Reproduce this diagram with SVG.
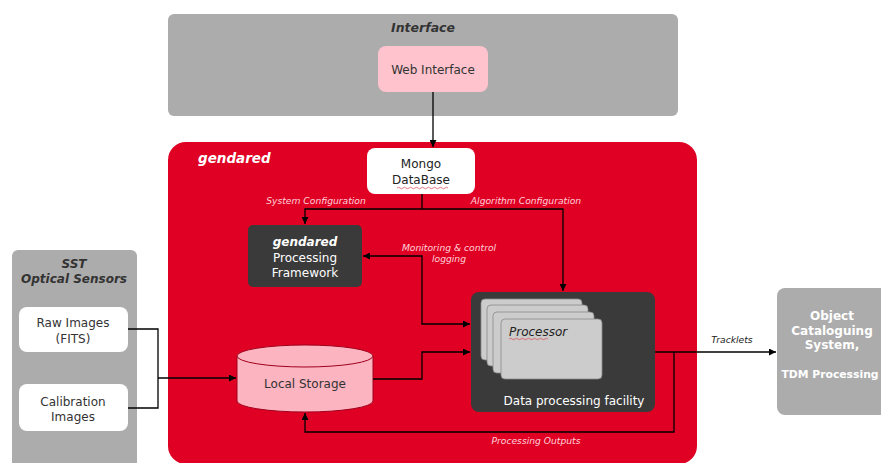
<svg xmlns="http://www.w3.org/2000/svg" width="881" height="463" viewBox="0 0 881 463">
<defs>
<style>
text{font-family:"DejaVu Sans","Verdana",sans-serif;}
.t12{font-size:12px;}
.c{text-anchor:middle;}
.bi{font-weight:bold;font-style:italic;}
.lbl{font-size:9.2px;font-style:italic;fill:#ffd3da;text-anchor:middle;}
.gray{fill:#acacac;}
.dark{fill:#3a3a3a;}
.card{fill:#cccccc;stroke:#8a8a8a;stroke-width:0.8;}
.ln{fill:none;stroke:#000;stroke-width:1.3;}
</style>
<marker id="ah" viewBox="0 0 10 10" refX="10" refY="5" markerWidth="7" markerHeight="7" markerUnits="userSpaceOnUse" orient="auto-start-reverse">
<path d="M0,0 L10,5 L0,10 z" fill="#000"/>
</marker>
</defs>
<rect width="881" height="463" fill="#fff"/>

<g id="interface">
<rect class="gray" x="168" y="14" width="510" height="102" rx="6"/>
<text class="bi c" x="423" y="32" font-size="12.5" fill="#333">Interface</text>
</g>
<g id="web-interface">
<rect x="378" y="46" width="110" height="46" rx="8" fill="#fec3cc"/>
<text class="t12 c" x="433" y="74" fill="#333">Web Interface</text>
</g>

<g id="gendared">
<rect x="168" y="142" width="529" height="322" rx="18" fill="#df0024"/>
<text class="bi" x="198" y="163" font-size="13.5" fill="#fff">gendared</text>
</g>

<g id="sst">
<rect class="gray" x="12" y="250" width="125" height="230" rx="6"/>
<text class="bi c" x="74" y="268" font-size="12" fill="#333">SST</text>
<text class="bi c" x="74" y="283" font-size="12" fill="#333">Optical Sensors</text>
</g>
<g id="raw-images">
<rect x="19" y="307" width="109" height="45" rx="8" fill="#fff"/>
<text class="t12 c" x="73" y="327" fill="#333">Raw Images</text>
<text class="t12 c" x="73" y="343" fill="#333">(FITS)</text>
</g>
<g id="calibration-images">
<rect x="19" y="384" width="109" height="47" rx="8" fill="#fff"/>
<text class="t12 c" x="73" y="406" fill="#333">Calibration</text>
<text class="t12 c" x="73" y="421" fill="#333">Images</text>
</g>

<g id="mongo">
<rect x="367" y="148" width="108" height="46" rx="8" fill="#fff"/>
<text class="t12 c" x="421" y="168" fill="#222">Mongo</text>
<text class="t12 c" x="421" y="184" fill="#222">DataBase</text>
<path d="M397,188 q1.5,-1.5 3,0 t3,0 t3,0 t3,0 t3,0 t3,0 t3,0 t3,0 t3,0 t3,0 t3,0 t3,0 t3,0 t3,0 t3,0 t3,0 t3,0" fill="none" stroke="#e04050" stroke-width="0.7"/>
</g>

<g id="processing-framework">
<rect class="dark" x="248" y="225" width="114" height="62" rx="5"/>
<text class="bi c" x="305" y="246" font-size="12" fill="#fff">gendared</text>
<text class="t12 c" x="305" y="262" fill="#fff">Processing</text>
<text class="t12 c" x="305" y="277" fill="#fff">Framework</text>
</g>

<g id="local-storage">
<path d="M237,356 L237,401 A68,11 0 0 0 373,401 L373,356" fill="#fbb4c0" stroke="#a0001c" stroke-width="1"/>
<ellipse cx="305" cy="356" rx="68" ry="11" fill="#fbb4c0" stroke="#a0001c" stroke-width="1"/>
<text class="t12 c" x="305" y="388" fill="#333">Local Storage</text>
</g>

<g id="data-processing-facility">
<rect class="dark" x="471" y="292" width="184" height="120" rx="8"/>
<rect class="card" x="481" y="299" width="101" height="61" rx="4"/>
<rect class="card" x="487" y="305" width="101" height="61" rx="4"/>
<rect class="card" x="493" y="312" width="101" height="61" rx="4"/>
<rect class="card" x="501" y="319" width="101" height="60" rx="4"/>
<text x="509" y="336" font-size="12" font-style="italic" fill="#222">Processor</text>
<path d="M509,339 q1.5,-1.5 3,0 t3,0 t3,0 t3,0 t3,0 t3,0 t3,0 t3,0 t3,0 t3,0 t3,0 t3,0 t3,0" fill="none" stroke="#e04050" stroke-width="0.7"/>
<text class="t12 c" x="574" y="405" fill="#fff">Data processing facility</text>
</g>

<g id="object-cataloguing">
<rect class="gray" x="777" y="288" width="120" height="127" rx="8"/>
<text class="c" x="832" y="320" font-size="12" font-weight="bold" fill="#fff">Object</text>
<text class="c" x="832" y="335" font-size="12" font-weight="bold" fill="#fff">Cataloguing</text>
<text class="c" x="832" y="349" font-size="12" font-weight="bold" fill="#fff">System,</text>
<text class="c" x="830" y="378" font-size="10.8" font-weight="bold" fill="#fff">TDM Processing</text>
</g>

<g id="connectors">
<path class="ln" d="M433,92 L433,147" marker-end="url(#ah)"/>
<path class="ln" d="M422,194 L422,209"/>
<path class="ln" d="M422,209 L305,209 L305,224" marker-end="url(#ah)"/>
<path class="ln" d="M422,209 L563,209 L563,291" marker-end="url(#ah)"/>
<path class="ln" d="M363,256 L422,256 L422,324 L470,324" marker-start="url(#ah)" marker-end="url(#ah)"/>
<path class="ln" d="M128,329 L158,329 L158,408 L128,408"/>
<path class="ln" d="M158,378 L236,378" marker-end="url(#ah)"/>
<path class="ln" d="M373,379 L422,379 L422,352 L470,352" marker-end="url(#ah)"/>
<path class="ln" d="M655,352 L776,352" marker-end="url(#ah)"/>
<path class="ln" d="M674,352 L674,432 L305,432 L305,413" marker-end="url(#ah)"/>
<text class="lbl" x="316" y="204">System Configuration</text>
<text class="lbl" x="526" y="204">Algorithm Configuration</text>
<text class="lbl" x="449" y="251">Monitoring &amp; control</text>
<text class="lbl" x="449" y="262">logging</text>
<text class="lbl" x="536" y="444">Processing Outputs</text>
<text x="732" y="343" font-size="9.2" font-style="italic" fill="#222" text-anchor="middle">Tracklets</text>
</g>
</svg>
